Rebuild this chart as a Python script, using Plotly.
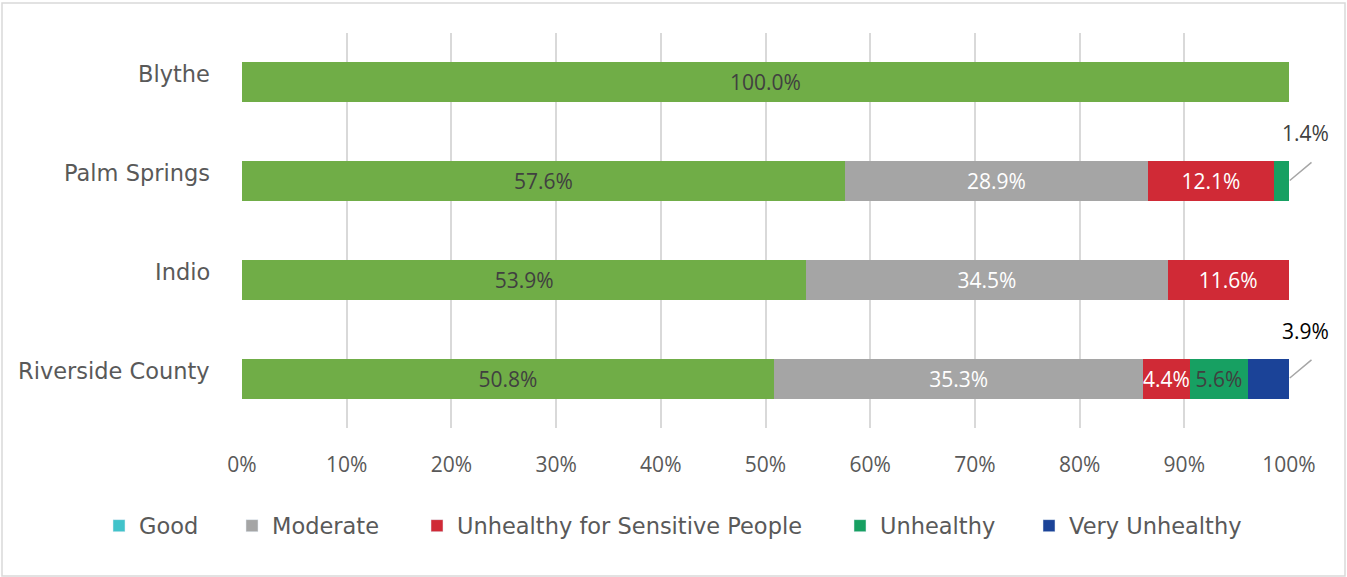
import plotly.graph_objects as go

# Air quality day shares by location (percent of days)
locations = ["Blythe", "Palm Springs", "Indio", "Riverside County"]
categories = ["Good", "Moderate", "Unhealthy for Sensitive People", "Unhealthy", "Very Unhealthy"]
good = [100.0, 57.6, 53.9, 50.8]
moderate = [None, 28.9, 34.5, 35.3]
usg = [None, 12.1, 11.6, 4.4]
unhealthy = [None, 1.4, None, 5.6]
very_unhealthy = [None, None, None, 3.9]
x_ticks = [0, 10, 20, 30, 40, 50, 60, 70, 80, 90, 100]

series = [good, moderate, usg, unhealthy, very_unhealthy]
bar_colors = ["#70AD47", "#A5A5A5", "#D02A36", "#17A062", "#1B4398"]
legend_colors = ["#41C3CA", "#A5A5A5", "#D02A36", "#17A062", "#1B4398"]
label_colors = ["#404040", "#FFFFFF", "#FFFFFF", "#404040", "#FFFFFF"]

WORD_FONT = "DejaVu Sans"
NUM_FONT = "Open Sans"
TXT = "#595959"

# plot area in pixels
W, H = 1347, 577
L, R, T, B = 242, 58, 33, 149
PW, PH = W - L - R, H - T - B


def px_x(p):
    return (p - L) / PW


def px_y(p):
    return (H - B - p) / PH


fig = go.Figure()

for i, (name, vals) in enumerate(zip(categories, series)):
    text = [f"{v:.1f}%" if (v is not None and v >= 4) else "" for v in vals]
    fig.add_trace(go.Bar(
        name=name, y=locations, x=vals, orientation="h",
        marker=dict(color=bar_colors[i], line=dict(width=0)),
        text=text, textposition="inside", insidetextanchor="middle",
        textangle=0, constraintext="none",
        textfont=dict(family=NUM_FONT, size=21, color=label_colors[i]),
        showlegend=False, hoverinfo="skip",
    ))

# legend entries placed individually
legend_left_px = [113, 246, 431, 854, 1043]
for i, name in enumerate(categories):
    key = "legend" if i == 0 else f"legend{i + 1}"
    fig.add_trace(go.Bar(
        name=name, x=[None], y=[None], orientation="h",
        marker=dict(color=legend_colors[i]), legend=key, showlegend=True,
    ))
    fig.update_layout(**{key: dict(
        x=px_x(legend_left_px[i] - 14), xanchor="left",
        y=px_y(526), yanchor="middle", orientation="h",
        bgcolor="rgba(0,0,0,0)", borderwidth=0,
        font=dict(family=WORD_FONT, size=22.5, color=TXT),
    )})

# category labels, sitting slightly above each bar's centre line
for name in locations:
    fig.add_annotation(x=px_x(212), xref="paper", y=name, yref="y",
                       text=name, showarrow=False, xanchor="right",
                       yshift=8,
                       font=dict(family=WORD_FONT, size=22.5, color=TXT))

# small segments labelled outside the bar end with a leader line
outside = [(1, unhealthy[1], "#404040"), (3, very_unhealthy[3], "#000000")]
for idx, val, col in outside:
    end = sum(s[idx] for s in series if s[idx] is not None)
    fig.add_annotation(x=end, y=locations[idx], text=f"{val:.1f}%", showarrow=False,
                       xshift=16, yshift=48,
                       font=dict(family=NUM_FONT, size=21, color=col))
    fig.add_annotation(x=end, y=locations[idx], text="", showarrow=True,
                       arrowhead=0, arrowwidth=1.5, arrowcolor="#A6A6A6",
                       ax=24, ay=-20, standoff=1, startstandoff=0)

# outer chart border
fig.add_shape(type="rect", xref="paper", yref="paper",
              x0=px_x(2), x1=px_x(1345), y0=px_y(3), y1=px_y(576),
              line=dict(color="#D9D9D9", width=1.5), fillcolor="rgba(0,0,0,0)")

fig.update_layout(
    barmode="stack", bargap=0.596,
    width=W, height=H,
    margin=dict(l=L, r=R, t=T, b=B, pad=0),
    paper_bgcolor="white", plot_bgcolor="white",
    font=dict(family=NUM_FONT, size=21, color=TXT),
    xaxis=dict(range=[0, 100], tickvals=x_ticks,
               ticktext=[f"{t}%" for t in x_ticks],
               showgrid=True, gridcolor="#D9D9D9", gridwidth=1.5,
               zeroline=False, showline=False, ticks="",
               ticklabelstandoff=22,
               tickfont=dict(family=NUM_FONT, size=21, color=TXT)),
    yaxis=dict(categoryorder="array", categoryarray=locations,
               range=[3.5, -0.5], showgrid=False, zeroline=False,
               showline=False, ticks="", showticklabels=False),
)

fig.write_html("out.html")
